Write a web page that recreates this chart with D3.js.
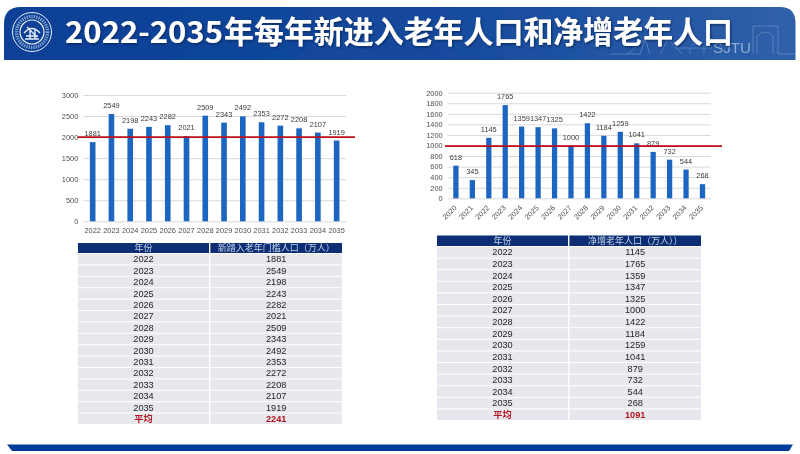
<!DOCTYPE html>
<html><head><meta charset="utf-8">
<script src="https://cdn.jsdelivr.net/npm/d3@7"></script>
<style>html,body{margin:0;padding:0;background:#fff;overflow:hidden}</style>
</head><body><svg id="c" width="800" height="454"></svg>
<script>
const titleNum = "2022-2035";
const titleCjk = "年每年新进入老年人口和净增老年人口";
const yearsA = ["2022","2023","2024","2025","2026","2027","2028","2029","2030","2031","2032","2033","2034","2035"];
const valuesA = [1881,2549,2198,2243,2282,2021,2509,2343,2492,2353,2272,2208,2107,1919];
const ticksA = [0,500,1000,1500,2000,2500,3000];
const yearsB = ["2020","2021","2022","2023","2024","2025","2026","2027","2028","2029","2030","2031","2032","2033","2034","2035"];
const valuesB = [618,345,1145,1765,1359,1347,1325,1000,1422,1184,1259,1041,879,732,544,268];
const ticksB = [0,200,400,600,800,1000,1200,1400,1600,1800,2000];
const tableYears = ["2022","2023","2024","2025","2026","2027","2028","2029","2030","2031","2032","2033","2034","2035"];
const tableA = ["1881","2549","2198","2243","2282","2021","2509","2343","2492","2353","2272","2208","2107","1919"];
const tableB = ["1145","1765","1359","1347","1325","1000","1422","1184","1259","1041","879","732","544","268"];
const avgLabel = "平均", avgA = "2241", avgB = "1091";
const headA = ["年份","新踏入老年门槛人口（万人）"];
const headB = ["年份","净增老年人口（万人））"];
const refA = 2000, refB = 990;

const FONT = "'Liberation Sans','Noto Sans CJK SC',sans-serif";
const CJK = "'Noto Sans CJK SC',sans-serif";
const svg = d3.select("#c");
const defs = svg.append("defs");
defs.append("filter").attr("id","soft").append("feGaussianBlur").attr("stdDeviation",0.4);
const sh = defs.append("filter").attr("id","shadow").attr("x","-5%").attr("y","-30%").attr("width","110%").attr("height","160%");
sh.append("feDropShadow").attr("dx",1).attr("dy",1.2).attr("stdDeviation",1).attr("flood-color","#04204f").attr("flood-opacity",0.8);
const grad = defs.append("linearGradient").attr("id","hd").attr("x1",0).attr("x2",1).attr("y1",0).attr("y2",0);
grad.append("stop").attr("offset","0").attr("stop-color","#0a3f96");
grad.append("stop").attr("offset","0.55").attr("stop-color","#154a9d");
grad.append("stop").attr("offset","1").attr("stop-color","#2f60a9");

const root = svg.append("g").attr("filter","url(#soft)");

// header band
root.append("path").attr("fill","url(#hd)")
  .attr("d","M4,60 L4,24 Q4,7 21,7 L780,7 Q795.5,7 795.5,23 L795.5,60 Z");
// skyline watermark
const sky = root.append("g").attr("fill","none").attr("stroke","#7f9fcc").attr("stroke-width",0.7).attr("opacity",0.75);
sky.append("path").attr("d","M610,54 L640,54 M628,54 L645,39 L640,54 M645,39 L650,54 M660,54 L668,39 L682,54 M675,48 L712,48 M690,54 L690,48 M704,54 L704,48 M692,44 L702,44");
sky.append("path").attr("d","M753,54 L753,26 L778,26 L778,54 L796,54 M757,54 L757,36 Q765,28 773,36 L773,54");
root.append("text").attr("x",713).attr("y",53).attr("font-family",FONT).attr("font-size",14).attr("fill","#8fabd3").attr("textLength",38).attr("lengthAdjust","spacingAndGlyphs").text("SJTU");

// logo
const logo = root.append("g").attr("transform","translate(32,32)").attr("fill","none").attr("stroke","#e9eff8");
logo.append("circle").attr("r",19.5).attr("stroke-width",1);
logo.append("circle").attr("r",12).attr("stroke-width",1.2);
logo.append("circle").attr("r",15.5).attr("stroke-width",3.5).attr("stroke-dasharray","1.2 1.2").attr("opacity",0.6);
logo.append("path").attr("stroke-width",1.4).attr("d","M-8,1 Q0,-8 8,1 M-5,-5 L5,5 M-6,4 L6,4 M-2,-4 L-2,7 M3,-2 L3,7 M-7,7 L7,7");

// title
const titleG = root.append("g").attr("filter","url(#shadow)")
  .attr("font-family",CJK).attr("font-weight",700).attr("font-size",30.5).attr("fill","#fff");
titleG.append("text").attr("x",65).attr("y",42.5).attr("textLength",158).attr("lengthAdjust","spacingAndGlyphs").text(titleNum);
titleG.append("text").attr("x",224).attr("y",42.5).attr("textLength",509).attr("lengthAdjust","spacingAndGlyphs").text(titleCjk);

// footer
root.append("path").attr("fill","#063e9a").attr("d","M7,444.5 L793,444.5 L789,451 L12,451 Z");

function chart(o){
  const x = d3.scaleBand().domain(o.years).range([o.x0,o.x1]).paddingInner(o.pad).paddingOuter(o.pad/2);
  const y = d3.scaleLinear().domain([0,o.max]).range([o.y0,o.y1]);
  const g = root.append("g");
  const yAxis = d3.axisLeft(y).tickValues(o.ticks).tickFormat(d3.format("d")).tickSize(o.x1-o.x0).tickPadding(5);
  const ga = g.append("g").attr("transform",`translate(${o.x1},0)`).call(yAxis);
  ga.select(".domain").remove();
  ga.selectAll("line").attr("stroke","#d9d9d9").attr("stroke-width",1);
  ga.selectAll("text").attr("font-family",FONT).attr("font-size",7.4).attr("fill","#4f4f4f");
  const xa = g.append("g").attr("transform",`translate(0,${o.y0})`).call(d3.axisBottom(x).tickSize(0).tickPadding(6));
  xa.select(".domain").remove();
  xa.selectAll("text").attr("font-family",FONT).attr("font-size",7.4).attr("fill","#4f4f4f");
  if(o.rot) xa.selectAll("text").attr("text-anchor","end").attr("x",-6.3).attr("y",8).attr("dy",0).attr("transform","rotate(-45)");
  g.selectAll("rect.bar").data(o.values).join("rect").attr("class","bar")
    .attr("x",(d,i)=>x(o.years[i])).attr("width",x.bandwidth())
    .attr("y",d=>y(d)).attr("height",d=>o.y0-y(d)).attr("fill","#1f66c1");
  g.selectAll("text.lbl").data(o.values).join("text").attr("class","lbl")
    .attr("x",(d,i)=>x(o.years[i])+x.bandwidth()/2).attr("y",d=>y(d)-6)
    .attr("text-anchor","middle").attr("font-family",FONT).attr("font-size",7.4).attr("fill","#3a3a3a").text(d=>d);
  g.append("line").attr("x1",o.rx0).attr("x2",o.rx1).attr("y1",y(o.ref)).attr("y2",y(o.ref))
    .attr("stroke","#bd0a18").attr("stroke-width",1.8);
}
chart({years:yearsA,values:valuesA,ticks:ticksA,max:3000,x0:83.3,x1:346,y0:221.3,y1:95,pad:0.7,ref:refA,rx0:78,rx1:355,rot:false});
chart({years:yearsB,values:valuesB,ticks:ticksB,max:2000,x0:447.7,x1:710.7,y0:198.3,y1:92.7,pad:0.68,ref:refB,rx0:445,rx1:722,rot:true});

function table(o){
  const g = root.append("g");
  const n = o.years.length+1;
  const rows = o.years.map((d,i)=>[d,o.vals[i]]).concat([[avgLabel,o.avg]]);
  const ry = d3.scaleBand().domain(d3.range(n)).range([o.y0,o.y1]).paddingInner(0.09);
  const cols = [[o.x0,o.xm-0.7],[o.xm+0.7,o.x1]];
  cols.forEach((c,j)=>{
    g.append("rect").attr("x",c[0]).attr("y",o.hy).attr("width",c[1]-c[0]).attr("height",o.hh).attr("fill","#0a2e74");
    g.append("text").attr("x",(c[0]+c[1])/2).attr("y",o.hy+o.hh/2+3.4).attr("text-anchor","middle")
      .attr("font-family",CJK).attr("font-size",9).attr("fill","#c6d3e8").text(o.head[j]);
    g.selectAll(null).data(rows).join("rect")
      .attr("x",c[0]).attr("y",(d,i)=>ry(i)).attr("width",c[1]-c[0]).attr("height",ry.bandwidth()).attr("fill","#e7e8ee");
    g.selectAll(null).data(rows).join("text")
      .attr("x",(c[0]+c[1])/2).attr("y",(d,i)=>ry(i)+ry.bandwidth()/2+3.2).attr("text-anchor","middle")
      .attr("font-family",FONT).attr("font-size",9.2)
      .attr("font-weight",(d,i)=>i==n-1?700:400)
      .attr("fill",(d,i)=>i==n-1?"#b5141f":"#1f1f1f").text(d=>d[j]);
  });
}
table({years:tableYears,vals:tableA,avg:avgA,head:headA,x0:78,x1:342,xm:209.7,hy:243,hh:10,y0:254,y1:424});
table({years:tableYears,vals:tableB,avg:avgB,head:headB,x0:437,x1:701,xm:568.7,hy:235.5,hh:10.5,y0:247,y1:420});
</script></body></html>
